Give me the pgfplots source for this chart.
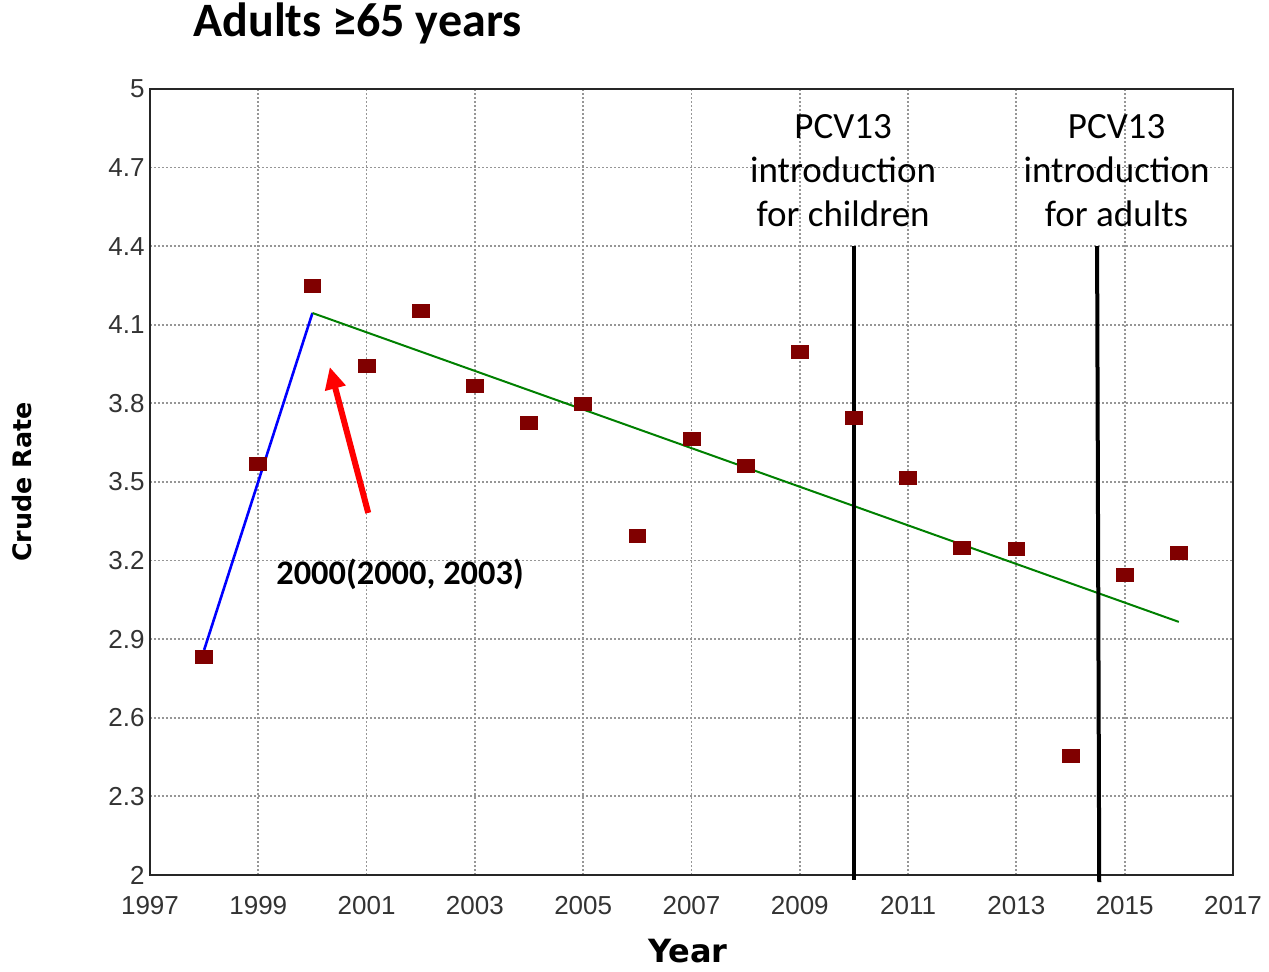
\documentclass[border=0pt]{standalone}
\usepackage{fontspec}
\setmainfont{Carlito}
\newfontfamily\arial{Liberation Sans}
\newfontfamily\dejavu{DejaVu Sans}
\usepackage{pgfplots}
\pgfplotsset{compat=1.18}
\usetikzlibrary{arrows.meta}
\definecolor{maroonpt}{RGB}{128,0,0}
\definecolor{gridgray}{RGB}{150,150,150}
\begin{document}
\begin{tikzpicture}
\useasboundingbox (-75pt,-48.5pt) rectangle (559.5pt,437.5pt);
\begin{axis}[
  name=ax,
  at={(0,0)}, anchor=south west,
  scale only axis,
  width=541.5pt, height=393pt,
  xmin=1997, xmax=2017, ymin=2, ymax=5,
  xtick={1997,1999,...,2017},
  ytick={2,2.3,2.6,2.9,3.2,3.5,3.8,4.1,4.4,4.7,5},
  yticklabels={2,2.3,2.6,2.9,3.2,3.5,3.8,4.1,4.4,4.7,5},
  /pgf/number format/1000 sep={},
  /pgf/number format/assume math mode=true,
  major tick length=0pt,
  tick label style={font=\arial\fontsize{13}{15}\selectfont, text=black!80},
  xticklabel style={yshift=-7pt},
  yticklabel style={xshift=0.8pt},
  grid=major,
  major grid style={gridgray, line width=0.9pt, dash pattern=on 1pt off 1pt},
  axis line style={black!85, line width=1.4pt},
  clip=false,
  xlabel={Year},
  ylabel={Crude Rate},
  xlabel style={font=\dejavu\bfseries\fontsize{16}{19}\selectfont, at={(axis description cs:0.4968,-0.111)}, anchor=base, inner sep=0pt},
  ylabel style={font=\dejavu\bfseries\fontsize{12.7}{15}\selectfont, at={(axis description cs:-0.1182,0.5)}, anchor=center},
]
% trend segments
\addplot[blue, line width=1.3pt] coordinates {(1998,2.859) (2000,4.145)};
\addplot[green!50!black, line width=1pt] coordinates {(2000,4.145) (2016,2.966)};
% observed crude rates
\addplot[only marks, mark=square*, mark size=3.25pt, mark options={xscale=1.3, fill=maroonpt, draw=maroonpt}]
  coordinates {
  (1998,2.832) (1999,3.569) (2000,4.248) (2001,3.943) (2002,4.153)
  (2003,3.866) (2004,3.725) (2005,3.798) (2006,3.294) (2007,3.664)
  (2008,3.561) (2009,3.996) (2010,3.744) (2011,3.515) (2012,3.248)
  (2013,3.244) (2014,2.454) (2015,3.145) (2016,3.229)
  };
% vertical introduction lines
\addplot[black, line width=2pt] coordinates {(2010,4.4) (2010,1.98)};
\addplot[black, line width=2pt] coordinates {(2014.49,4.4) (2014.53,1.973)};
% red arrow
\draw[red, line width=3pt, -{Triangle[length=11pt,width=10pt]}] (axis cs:2001.03,3.382) -- (axis cs:2000.32,3.939);
\node[anchor=base, inner sep=0pt, font=\bfseries\fontsize{17.2}{20}\selectfont] at (axis cs:2001.617,3.107) {2000(2000, 2003)};
\node[anchor=north, inner sep=0pt, align=center, font=\fontsize{18.5}{22}\selectfont] at (axis cs:2009.8,4.905) {PCV13\\introduction\\for children};
\node[anchor=north, inner sep=0pt, align=center, font=\fontsize{18.5}{22}\selectfont] at (axis cs:2014.85,4.905) {PCV13\\introduction\\for adults};
\end{axis}
\node[anchor=base west, inner sep=0pt, font=\bfseries\fontsize{24}{28}\selectfont] at ([xshift=21.5pt,yshift=26pt]ax.north west) {Adults ≥65 years};
\end{tikzpicture}
\end{document}
